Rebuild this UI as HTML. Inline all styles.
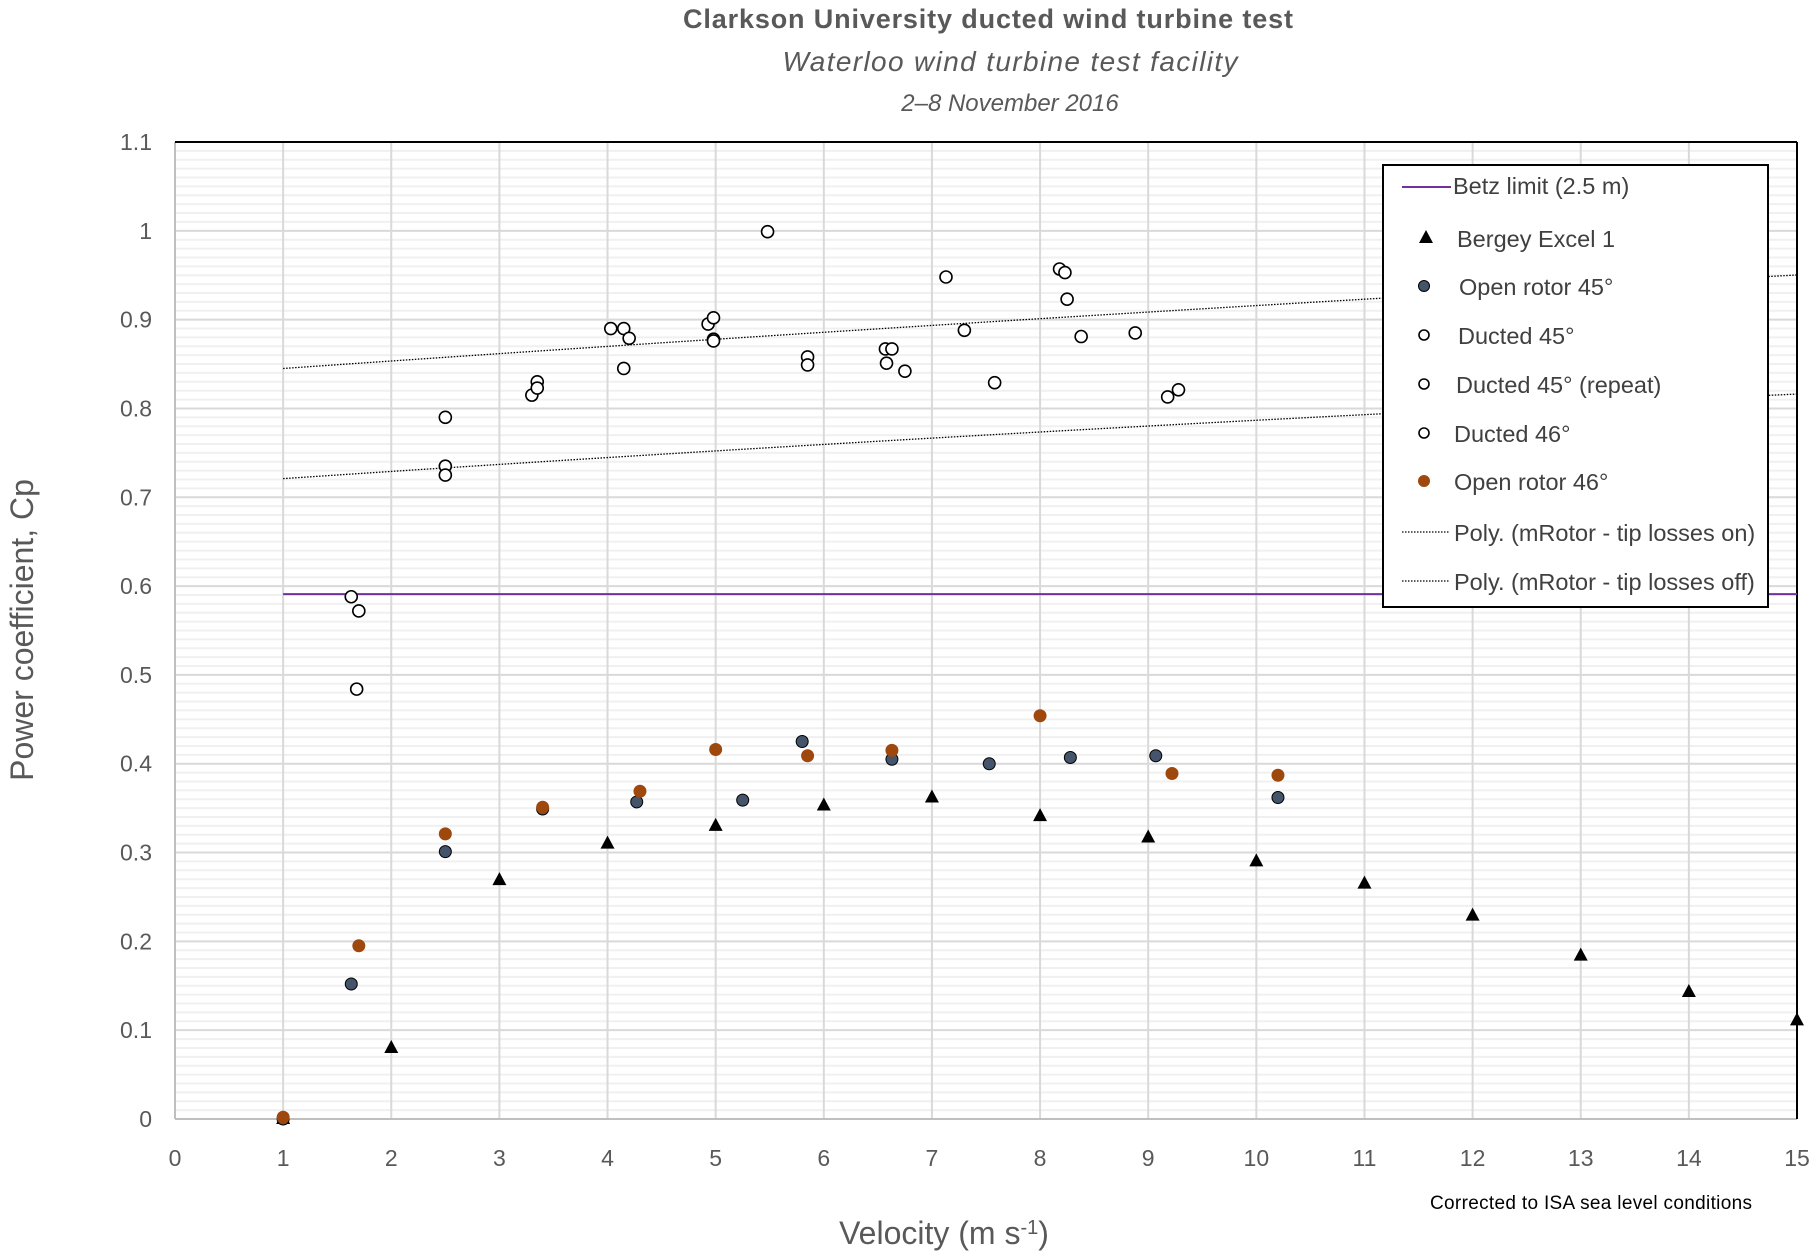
<!DOCTYPE html>
<html><head><meta charset="utf-8"><style>
body{margin:0;background:#fff;}
svg{display:block;font-family:"Liberation Sans",sans-serif;}
</style></head><body>
<svg id="s" width="1818" height="1256" xmlns="http://www.w3.org/2000/svg">
<text x="988" y="28" text-anchor="middle" font-size="27" font-weight="bold" fill="#595959" textLength="610">Clarkson University ducted wind turbine test</text>
<text x="1010" y="71" text-anchor="middle" font-size="28" font-style="italic" fill="#595959" textLength="455">Waterloo wind turbine test facility</text>
<text x="1010" y="111" text-anchor="middle" font-size="24" font-style="italic" fill="#595959">2–8 November 2016</text>
<text transform="translate(33,630) rotate(-90)" text-anchor="middle" font-size="32" fill="#595959">Power coefficient, Cp</text>
<text x="944" y="1244" text-anchor="middle" font-size="32" fill="#595959">Velocity (m s<tspan dy="-10" font-size="20">-1</tspan><tspan dy="10">)</tspan></text>
<text x="1752" y="1209" text-anchor="end" font-size="19" fill="#000" textLength="322">Corrected to ISA sea level conditions</text>
<g id="g"></g>
</svg>
<script>
const X0=175,X1=1797,Y0=1119,YT=142;
const sx=v=>X0+(X1-X0)*v/15, sy=v=>Y0-(Y0-YT)*v/1.1;
let h='';
for(let i=1;i<110;i++){ if(i%10) h+=`<line x1="${X0}" x2="${X1}" y1="${sy(i/100)}" y2="${sy(i/100)}" stroke="#f0f0f0" stroke-width="2"/>`;}
for(let i=1;i<11;i++) h+=`<line x1="${X0}" x2="${X1}" y1="${sy(i/10)}" y2="${sy(i/10)}" stroke="#d9d9d9" stroke-width="2"/>`;
for(let i=1;i<15;i++) h+=`<line y1="${YT}" y2="${Y0}" x1="${sx(i)}" x2="${sx(i)}" stroke="#d9d9d9" stroke-width="2"/>`;
h+=`<line x1="${X0}" x2="${X1}" y1="${Y0}" y2="${Y0}" stroke="#bfbfbf" stroke-width="2"/><line x1="${X0}" x2="${X0}" y1="${YT}" y2="${Y0}" stroke="#bfbfbf" stroke-width="2"/>`;
h+=`<line x1="${X0}" x2="${X1}" y1="${YT}" y2="${YT}" stroke="#000" stroke-width="2"/><line x1="${X1}" x2="${X1}" y1="${YT}" y2="${Y0}" stroke="#000" stroke-width="2"/>`;
for(let i=0;i<=11;i++){const v=i/10;h+=`<text x="152" y="${sy(v)+8}" text-anchor="end" font-size="23" fill="#595959">${i==0?'0':(i==10?'1':(i==11?'1.1':v.toFixed(1)))}</text>`;}
for(let i=0;i<=15;i++) h+=`<text x="${sx(i)}" y="1166" text-anchor="middle" font-size="23" fill="#595959">${i}</text>`;
function poly(a,b,c){let p='';for(let v=1;v<=15;v+=0.25){p+=`${sx(v)},${sy(a+b*(v-1)+c*(v-1)*(v-1))} `;}return `<polyline points="${p}" fill="none" stroke="#000" stroke-width="1.3" stroke-dasharray="1.5,1.5"/>`;}
h+=poly(0.845,0.0085,-0.00007);h+=poly(0.721,0.0082,-0.0001);
h+=`<line x1="${sx(1)}" x2="${X1}" y1="${sy(0.591)}" y2="${sy(0.591)}" stroke="#7030a0" stroke-width="2"/>`;
const duc=[[1.63,.588],[1.70,.572],[1.68,.484],[2.5,.79],[2.5,.735],[2.5,.725],[3.3,.815],[3.35,.83],[3.35,.823],[4.03,.89],[4.15,.89],[4.2,.879],[4.15,.845],[4.93,.895],[4.98,.902],[4.98,.878],[4.98,.876],[5.48,.999],[5.85,.858],[5.85,.849],[6.57,.867],[6.63,.867],[6.58,.851],[6.75,.842],[7.13,.948],[7.3,.888],[7.58,.829],[8.18,.957],[8.23,.953],[8.25,.923],[8.38,.881],[8.88,.885],[9.18,.813],[9.28,.821]];
const o45=[[1,0],[1.63,.152],[2.5,.301],[3.4,.349],[4.27,.357],[5.25,.359],[5.8,.425],[6.63,.405],[7.53,.4],[8.28,.407],[9.07,.409],[10.2,.362]];
const o46=[[1,.002],[1.7,.195],[2.5,.321],[3.4,.351],[4.3,.369],[5,.416],[5.85,.409],[6.63,.415],[8,.454],[9.22,.389],[10.2,.387]];
const ber=[[1,0],[2,.08],[3,.269],[4,.31],[5,.33],[6,.353],[7,.362],[8,.341],[9,.317],[10,.29],[11,.265],[12,.229],[13,.184],[14,.143],[15,.111]];
const tri=(x,y)=>`<polygon points="${x},${y-8} ${x-7},${y+5} ${x+7},${y+5}" fill="#000"/>`;
ber.forEach(p=>h+=tri(sx(p[0]),sy(p[1])));
o45.forEach(p=>h+=`<circle cx="${sx(p[0])}" cy="${sy(p[1])}" r="6" fill="#44546a" stroke="#000" stroke-width="1"/>`);
o46.forEach(p=>h+=`<circle cx="${sx(p[0])}" cy="${sy(p[1])}" r="6.5" fill="#9e480e"/>`);
duc.forEach(p=>h+=`<circle cx="${sx(p[0])}" cy="${sy(p[1])}" r="6" fill="#fff" stroke="#000" stroke-width="1.6"/>`);
const D=-7;
h+=`<rect x="${1390+D}" y="165" width="385" height="442" fill="#fff" stroke="#000" stroke-width="2"/>`;
const L=[[185,'line','Betz limit (2.5 m)',1460],[238,'tri','Bergey Excel 1',1464],[286,'o45','Open rotor 45°',1466],[335,'duc','Ducted 45°',1465],[384,'duc','Ducted 45° (repeat)',1463],[433,'duc','Ducted 46°',1461],[481,'o46','Open rotor 46°',1461],[532,'dot','Poly. (mRotor - tip losses on)',1461],[581,'dot','Poly. (mRotor - tip losses off)',1461]];
L.forEach(([y,t,s,tx])=>{
 if(t=='line')h+=`<line x1="${1409+D}" x2="${1458+D}" y1="${y+2}" y2="${y+2}" stroke="#7030a0" stroke-width="2"/>`;
 if(t=='tri')h+=tri(1433+D,y);
 if(t=='o45')h+=`<circle cx="${1431+D}" cy="${y}" r="5.5" fill="#44546a" stroke="#000"/>`;
 if(t=='o46')h+=`<circle cx="${1431+D}" cy="${y}" r="6" fill="#9e480e"/>`;
 if(t=='duc')h+=`<circle cx="${1431+D}" cy="${y}" r="5" fill="#fff" stroke="#000" stroke-width="1.6"/>`;
 if(t=='dot')h+=`<line x1="${1409+D}" x2="${1456+D}" y1="${y}" y2="${y}" stroke="#000" stroke-width="1.3" stroke-dasharray="1.5,1.5"/>`;
 h+=`<text x="${tx+D}" y="${y+9}" font-size="23.5" fill="#404040">${s}</text>`;
});
document.getElementById('g').innerHTML=h;
</script>
</body></html>
